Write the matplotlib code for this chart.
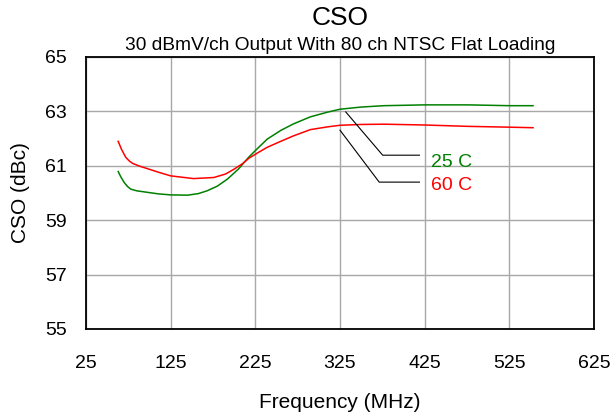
import matplotlib
matplotlib.use("Agg")
import matplotlib.pyplot as plt

plt.rcParams['font.family'] = ['Liberation Sans', 'DejaVu Sans']

freq_25 = [63, 66, 70, 74, 78, 85, 94, 110, 125, 145, 158, 168, 180, 192, 205, 217,
           228, 239, 255, 270, 290, 310, 325, 350, 377, 425, 476, 525, 553]
cso_25 = [60.79, 60.60, 60.39, 60.24, 60.14, 60.08, 60.04, 59.97, 59.93, 59.92, 59.98,
          60.08, 60.25, 60.51, 60.88, 61.31, 61.65, 61.98, 62.30, 62.54, 62.80, 62.97,
          63.08, 63.16, 63.21, 63.24, 63.24, 63.21, 63.21]
freq_60 = [63, 67, 72, 76, 80, 88, 97, 110, 125, 152, 176, 190, 200, 210, 217, 228,
           239, 255, 270, 290, 310, 325, 350, 377, 425, 476, 525, 553]
cso_60 = [61.90, 61.60, 61.31, 61.18, 61.09, 60.99, 60.90, 60.77, 60.63, 60.53, 60.57,
          60.70, 60.88, 61.08, 61.27, 61.48, 61.68, 61.90, 62.10, 62.33, 62.43, 62.49,
          62.52, 62.53, 62.50, 62.45, 62.42, 62.40]

x_ticks = [25, 125, 225, 325, 425, 525, 625]
y_ticks = [55, 57, 59, 61, 63, 65]

leader_25_x = [331.8, 375.4, 418.8]
leader_25_y = [62.98, 61.39, 61.39]
leader_60_x = [325.0, 371.3, 418.8]
leader_60_y = [62.31, 60.40, 60.40]

fig = plt.figure(figsize=(6.10, 4.19), dpi=100)
ax = fig.add_axes([86/610, 1-329/419, (594-86)/610, (329-57)/419])

ax.plot(freq_25, cso_25, color='#008000', lw=1.1, zorder=3)
ax.plot(freq_60, cso_60, color='#ff0000', lw=1.1, zorder=3)
ax.plot(leader_25_x, leader_25_y, color='black', lw=0.8, zorder=3)
ax.plot(leader_60_x, leader_60_y, color='black', lw=0.8, zorder=3)
ax.text(433, 61.12, '25 C', color='#008000', fontsize=14, va='center', ha='left')
ax.text(433, 60.27, '60 C', color='#ff0000', fontsize=14, va='center', ha='left')

ax.set_xlim(25, 625)
ax.set_ylim(55, 65)
ax.set_xticks(x_ticks)
ax.set_yticks(y_ticks)
ax.grid(True, color='#a8a8a8', lw=1.0)
ax.set_axisbelow(True)
ax.tick_params(length=0, labelsize=14)
ax.tick_params(axis='x', pad=19)
ax.tick_params(axis='y', pad=14)
for s in ax.spines.values():
    s.set_linewidth(1.3)
    s.set_color('black')

ax.set_xlabel('Frequency (MHz)', fontsize=15, labelpad=15)
ax.set_ylabel('CSO (dBc)', fontsize=15, labelpad=11)
cx = ax.get_position().x0 + ax.get_position().width/2
fig.text(cx, 1-18/419, 'CSO', fontsize=19, ha='center', va='center')
fig.text(cx, 1-45/419, '30 dBmV/ch Output With 80 ch NTSC Flat Loading',
         fontsize=13.8, ha='center', va='center')

fig.savefig('out.png', dpi=100)
